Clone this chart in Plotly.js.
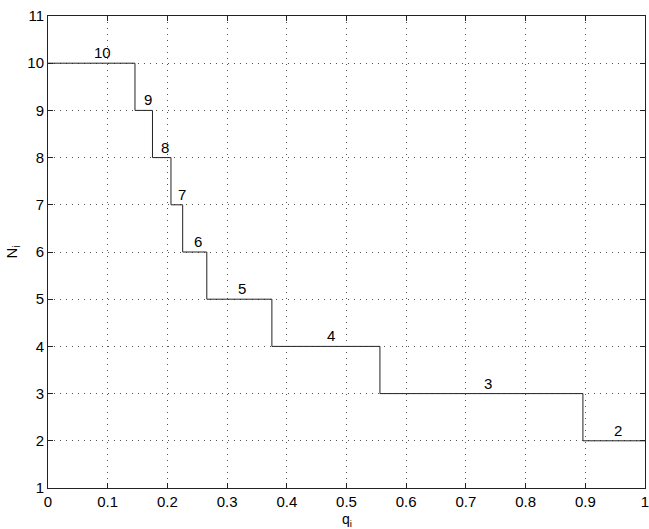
<!DOCTYPE html>
<html>
<head>
<meta charset="utf-8">
<script src="https://cdn.plot.ly/plotly-3.0.1.min.js"></script>
<style>html,body{margin:0;padding:0;background:#fff;}</style>
</head>
<body>
<div id="chart" style="width:649px;height:529px;"></div>
<script>
// Step edges (q_i) and levels (N_i)
const qEdges = [0, 0.1457, 0.175, 0.206, 0.2256, 0.266, 0.375, 0.556, 0.896, 1];
const nLevels = [10, 9, 8, 7, 6, 5, 4, 3, 2, 2];
// Step labels
const labelText = ["10", "9", "8", "7", "6", "5", "4", "3", "2"];
const labelX = [0.092, 0.1675, 0.196, 0.224, 0.251, 0.325, 0.4735, 0.737, 0.955];
const labelY = [10, 9, 8, 7, 6, 5, 4, 3, 2];
const xTicks = [0, 0.1, 0.2, 0.3, 0.4, 0.5, 0.6, 0.7, 0.8, 0.9, 1];
const xTickText = ["0", "0.1", "0.2", "0.3", "0.4", "0.5", "0.6", "0.7", "0.8", "0.9", "1"];
const yTicks = [1, 2, 3, 4, 5, 6, 7, 8, 9, 10, 11];
const xTitle = "q<sub>i</sub>";
const yTitle = "N<sub>i</sub>";

const font = {family: "Liberation Sans, Arial, Helvetica, sans-serif", size: 15, color: "#000"};
const titleFont = {family: "Liberation Sans, Arial, Helvetica, sans-serif", size: 14, color: "#000"};

const trace = {
  x: qEdges, y: nLevels, type: "scatter", mode: "lines",
  line: {shape: "hv", color: "#222", width: 1},
  hoverinfo: "skip", cliponaxis: false
};

const annotations = labelText.map((t, i) => ({
  x: labelX[i], y: labelY[i], text: t, showarrow: false,
  xanchor: "center", yanchor: "bottom", yshift: 0,
  font: font
}));
annotations.push({
  xref: "paper", yref: "paper", x: 0.5, y: 0, text: xTitle, showarrow: false,
  xanchor: "center", yanchor: "top", yshift: -22, borderpad: 0, font: titleFont
});

const axisCommon = {
  showline: true, linecolor: "#222", linewidth: 1, mirror: "ticks",
  ticks: "inside", ticklen: 5, tickcolor: "#222",
  showgrid: true, gridcolor: "#555", gridwidth: 1, griddash: "1px,5px",
  zeroline: false, tickfont: font, ticklabeloverflow: "allow"
};

const layout = {
  width: 649, height: 529,
  margin: {l: 48, r: 4, t: 16, b: 41},
  paper_bgcolor: "#fff", plot_bgcolor: "#fff",
  showlegend: false,
  xaxis: Object.assign({}, axisCommon, {
    range: [-0.000001, 1.000001], tickvals: xTicks, ticktext: xTickText,
    ticklabelstandoff: 0
  }),
  yaxis: Object.assign({}, axisCommon, {
    range: [1, 11], tickvals: yTicks,
    title: {text: yTitle, font: font, standoff: 6}
  }),
  annotations: annotations
};

Plotly.newPlot("chart", [trace], layout, {displayModeBar: false, staticPlot: true});
</script>
</body>
</html>
